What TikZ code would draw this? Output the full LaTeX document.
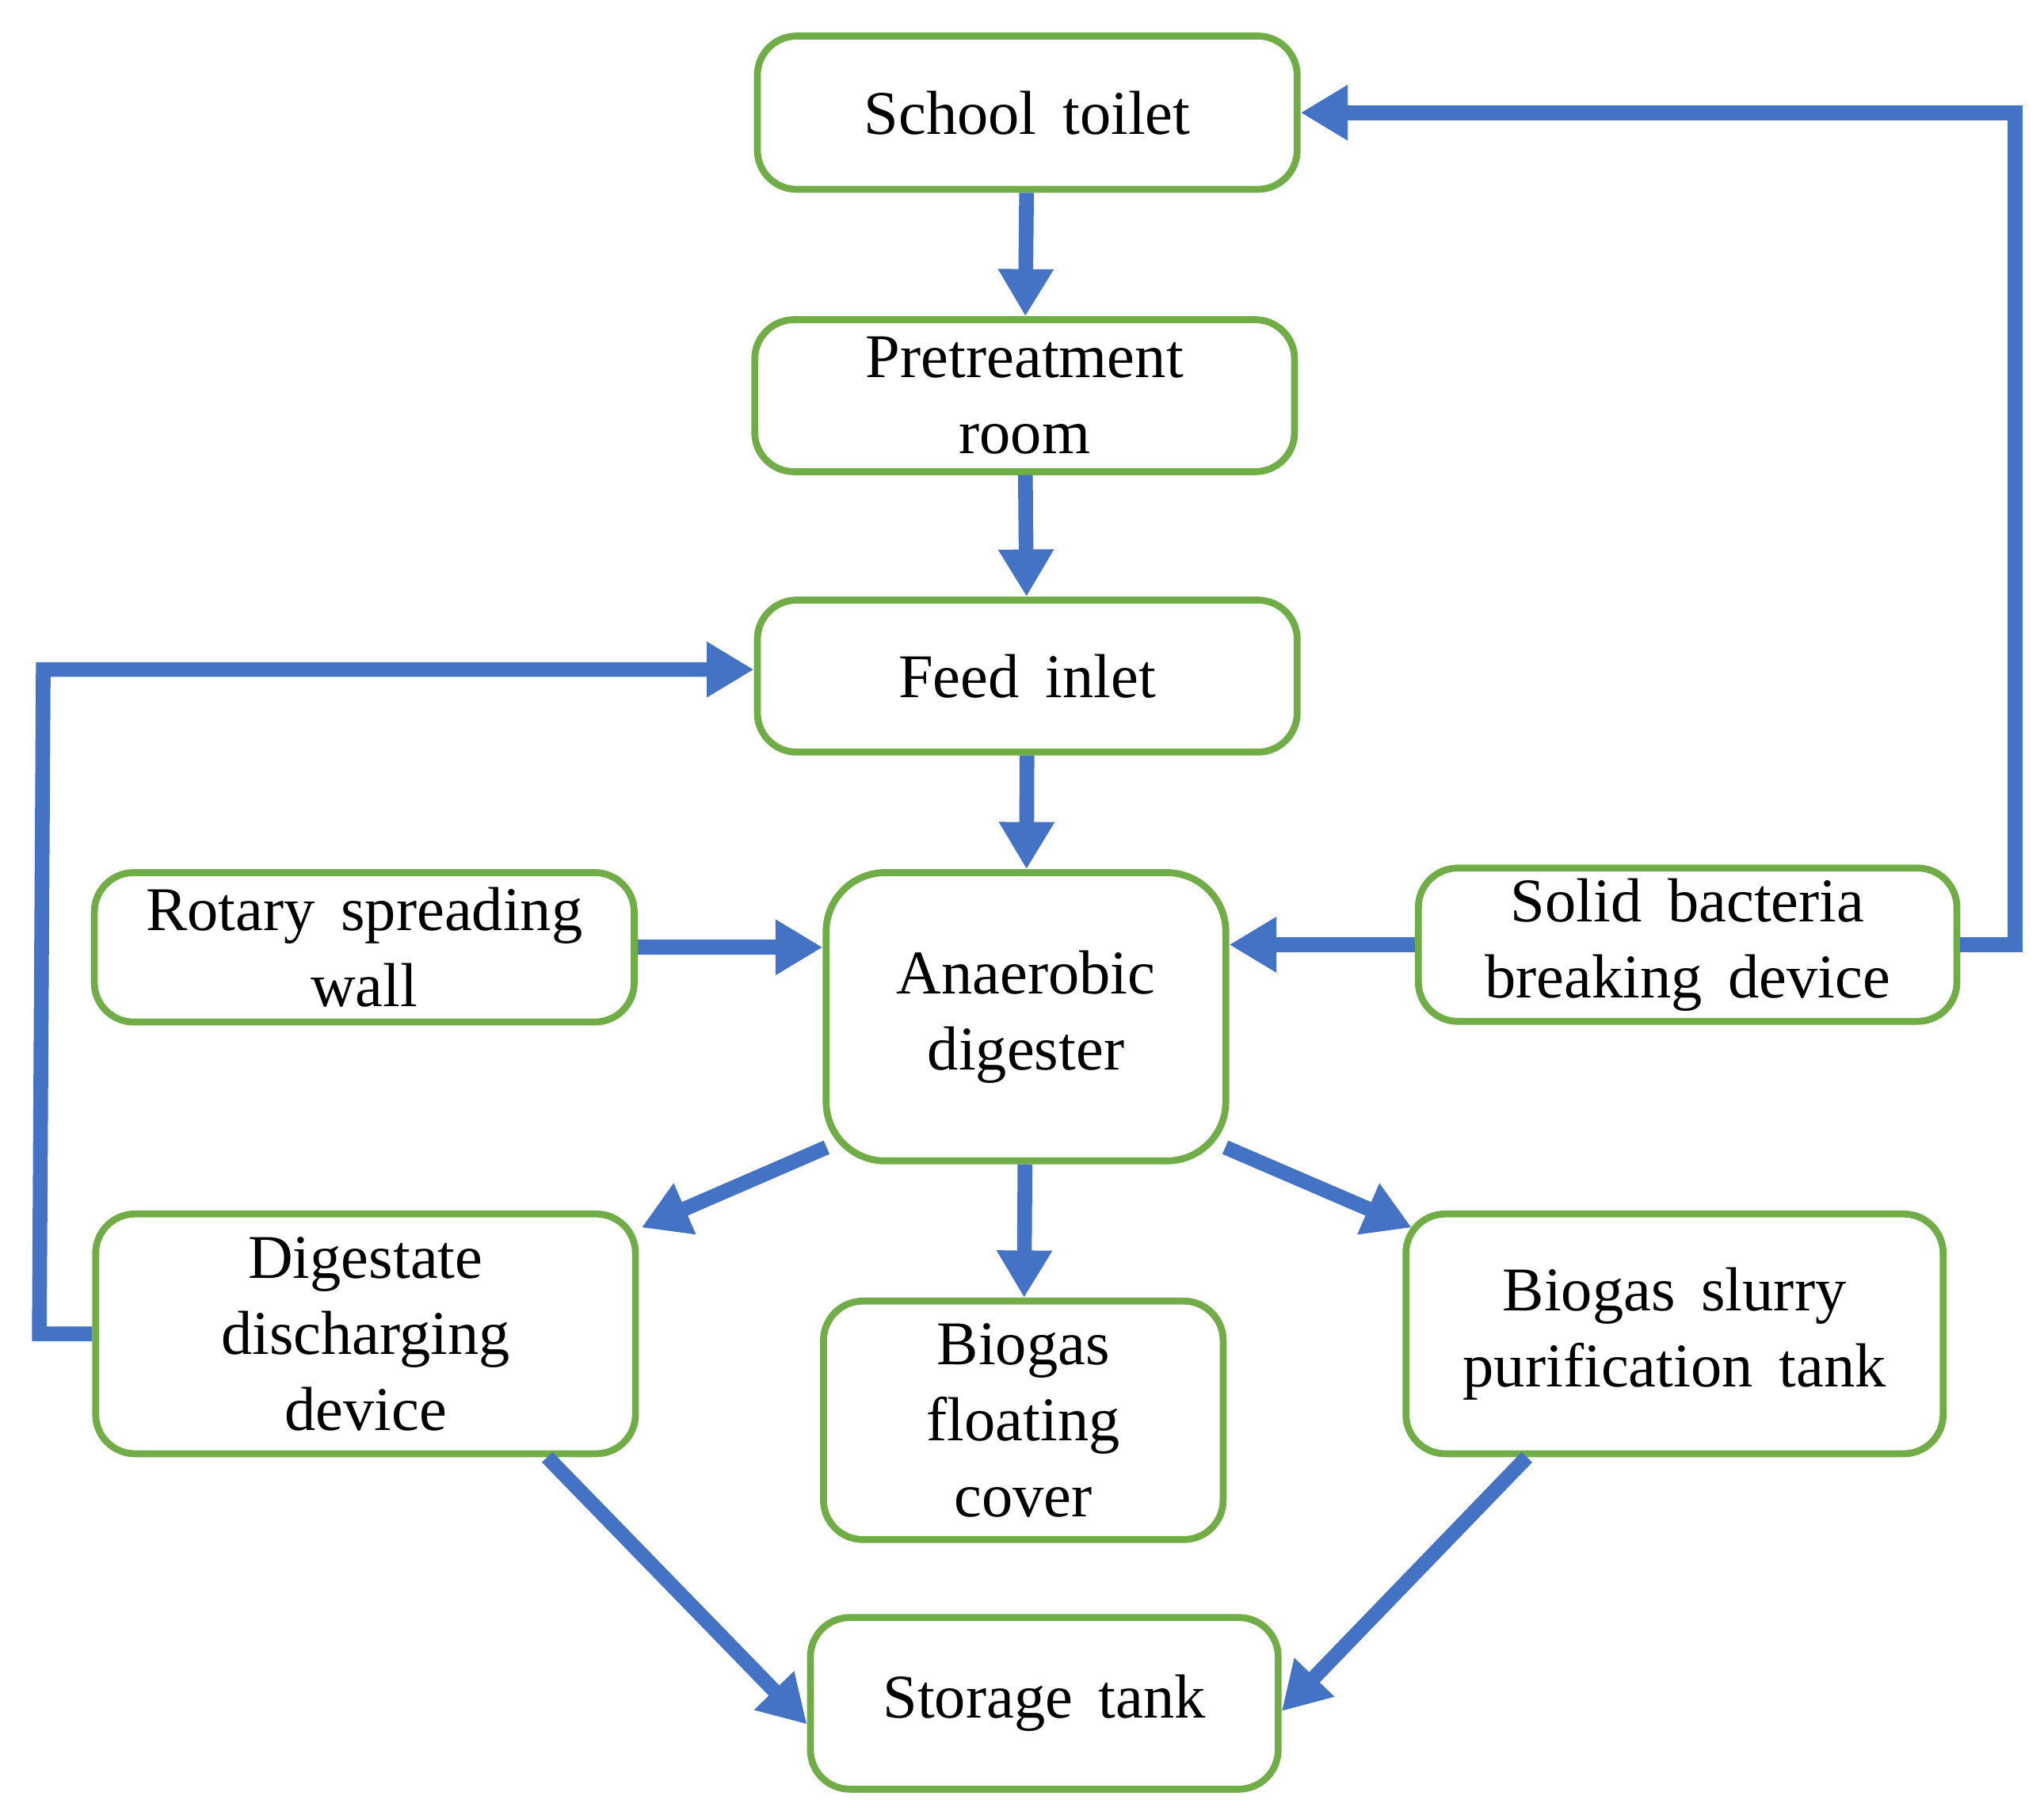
\documentclass[tikz,border=0pt]{standalone}
\usepackage{fontspec}
\setmainfont{Liberation Serif}
\usetikzlibrary{arrows.meta, calc, positioning}
\definecolor{boxgreen}{HTML}{70AD47}
\definecolor{flowblue}{HTML}{4472C4}
\tikzstyle{unit} = [rectangle, rounded corners=0.3cm, draw=boxgreen, line width=1.5pt, align=center, font=\fontsize{13.5}{16.5}\selectfont, inner sep=0pt]
\tikzstyle{flow} = [draw=flowblue, line width=3.2pt, -{Triangle[length=0.36cm,width=0.4cm]}]

\begin{document}
\begin{tikzpicture}
  \useasboundingbox (0,0) rectangle (15.6,-13.85);
  \node (toilet) [unit, minimum width=4.12cm, minimum height=1.17cm] at (7.84,-0.86) {School\, toilet};
  \node (pre) [unit, minimum width=4.12cm, minimum height=1.16cm] at (7.82,-3.02) {Pretreatment\\room};
  \node (feed) [unit, minimum width=4.12cm, minimum height=1.16cm] at (7.84,-5.16) {Feed\, inlet};
  \node (rotary) [unit, minimum width=4.12cm, minimum height=1.14cm] at (2.78,-7.23) {Rotary\, spreading\\wall};
  \node (digester) [unit, rounded corners=0.45cm, minimum width=3.05cm, minimum height=2.2cm] at (7.83,-7.76) {Anaerobic\\digester};
  \node (solid) [unit, minimum width=4.11cm, minimum height=1.17cm] at (12.88,-7.21) {Solid\, bacteria\\breaking\, device};
  \node (digestate) [unit, minimum width=4.12cm, minimum height=1.83cm] at (2.79,-10.18) {Digestate\\discharging\\device};
  \node (cover) [unit, minimum width=3.05cm, minimum height=1.82cm] at (7.81,-10.84) {Biogas\\floating\\cover};
  \node (slurry) [unit, minimum width=4.1cm, minimum height=1.83cm] at (12.78,-10.18) {Biogas\, slurry\\purification\, tank};
  \node (storage) [unit, minimum width=3.57cm, minimum height=1.31cm] at (7.97,-13.0) {Storage\, tank};

  \coordinate (rightturn) at (15.38,-7.21);
  \coordinate (leftturn) at (0.3,-10.18);

  \draw[flow] (toilet) -- (pre);
  \draw[flow] (pre) -- (feed);
  \draw[flow] (feed) -- (digester);
  \draw[flow] (rotary.east) -- (rotary.east -| digester.west);
  \draw[flow] (solid.west) -- (solid.west -| digester.east);
  \draw[flow] (solid.east) -- (rightturn) |- (toilet.east);
  \draw[flow] (digester.south west) ++(0.03,0.13) -- ($(digestate.north east)+(0.02,-0.13)$);
  \draw[flow] (digester) -- (cover);
  \draw[flow] (digester.south east) ++(-0.03,0.13) -- ($(slurry.north west)+(0.07,-0.13)$);
  \draw[flow] ($(digestate.south east)+(-0.7,0)$) -- ($(storage.west)+(0,-0.16)$);
  \draw[flow] ($(slurry.south west)+(0.95,0)$) -- ($(storage.east)+(0,-0.06)$);
  \draw[flow] (digestate.west) -- (leftturn) -- (0.33,-5.11) -- (feed.west |- 0,-5.11);
\end{tikzpicture}
\end{document}
